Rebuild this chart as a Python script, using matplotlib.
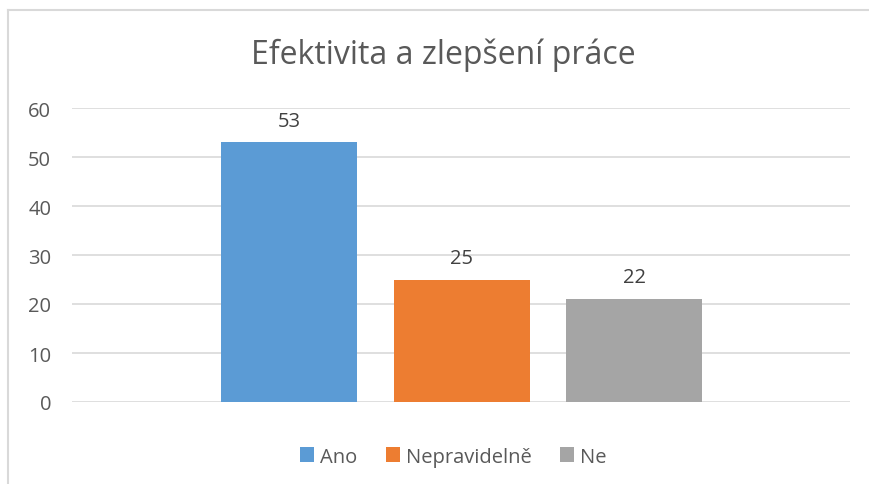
import numpy as np
import matplotlib.pyplot as plt
from matplotlib.lines import Line2D

# data
categories = ["Ano", "Nepravidelně", "Ne"]
values = [53, 25, 21]
value_labels = ["53", "25", "22"]
colors = ["#5B9BD5", "#ED7D31", "#A5A5A5"]
yticks = [0, 10, 20, 30, 40, 50, 60]

TEXT = "#595959"
GRID = "#D9D9D9"

plt.rcParams["font.family"] = ["Open Sans", "DejaVu Sans"]

fig = plt.figure(figsize=(8.7, 4.85), dpi=100)
W, H = 870, 485
ax = fig.add_axes([72 / W, 82 / H, (850 - 72) / W, (376 - 82) / H])

x = np.arange(len(categories))
bars = ax.bar(x, values, width=136 / 172.5, color=colors, label=categories, zorder=3)

for b, txt in zip(bars, value_labels):
    ax.annotate(txt, (b.get_x() + b.get_width() / 2, b.get_height()),
                xytext=(0, 12), textcoords="offset points",
                ha="center", va="baseline", fontsize=14.5, color="#404040")

ax.set_xlim(-1.258, 3.252)
ax.set_ylim(0, 60)
ax.set_yticks(yticks)
ax.set_xticks([])
ax.grid(axis="y", color=GRID, linewidth=1.2, zorder=0)
for s in ax.spines.values():
    s.set_visible(False)
ax.tick_params(axis="y", length=0, pad=15, labelsize=14.5, labelcolor=TEXT)

fig.text(0.5 * (250 + 637) / W, 1 - 55 / H, "Efektivita a zlepšení práce",
         ha="center", va="center", fontsize=23, color=TEXT)

ax.legend(loc="upper center", bbox_to_anchor=(0.49, -0.09), ncol=3, frameon=False,
          fontsize=14.5, handlelength=0.7, handleheight=0.7, handletextpad=0.3,
          columnspacing=1.4, labelcolor=TEXT)

# chart area border (left and top)
fig.add_artist(Line2D([8.5 / W, 8.5 / W], [0, 1 - 11 / H], color=GRID, linewidth=1.5))
fig.add_artist(Line2D([8 / W, 1], [1 - 11 / H, 1 - 11 / H], color=GRID, linewidth=1.5))

fig.savefig("out.png", dpi=100)
